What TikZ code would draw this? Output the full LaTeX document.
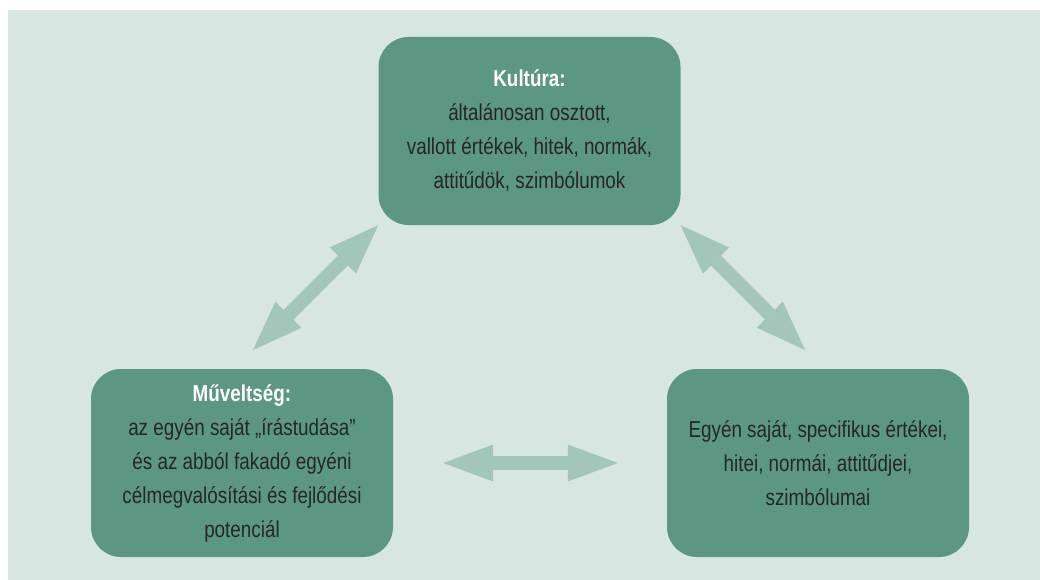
\documentclass[tikz,border=0pt]{standalone}
\usepackage{fontspec}
\setmainfont[FakeStretch=0.82]{Liberation Sans}
\usepackage{tikz}
\usetikzlibrary{arrows.meta}
\definecolor{bg}{HTML}{D8E6E1}
\definecolor{boxc}{HTML}{5C9784}
\definecolor{arrc}{HTML}{A3C6BA}
\definecolor{txt}{HTML}{262626}
\tikzstyle{box} = [rectangle, rounded corners=30pt, minimum width=302pt, minimum height=188pt, fill=boxc, align=center, inner sep=0pt, text=txt, font=\fontsize{23}{34}\selectfont]
\tikzstyle{dbl} = [draw=arrc, line width=14pt, {Triangle[width=37pt,length=50pt,line width=0pt]}-{Triangle[width=37pt,length=50pt,line width=0pt]}]
\newcommand{\cim}[1]{\textbf{\color{white}#1}}

\begin{document}
\begin{tikzpicture}[x=1pt,y=-1pt]
        \useasboundingbox (0,0) rectangle (1040,580);
        \fill[bg] (8,10) rectangle (1040,580);

        \node (K) [box, xshift=529.5pt, yshift=-131pt] {\cim{Kultúra:} \\ általánosan osztott, \\ vallott értékek, hitek, normák, \\ attitűdök, szimbólumok};
        \node (M) [box, xshift=242pt, yshift=-463pt] {\cim{Műveltség:} \\ az egyén saját „írástudása” \\ és az abból fakadó egyéni \\ célmegvalósítási és fejlődési \\ potenciál};
        \node (E) [box, xshift=818pt, yshift=-463pt] {Egyén saját, specifikus értékei, \\ hitei, normái, attitűdjei, \\ szimbólumai};

        \coordinate (c1) at (253,350);
        \coordinate (c2) at (805,350);

        \draw[dbl] (K.south west) -- (c1);
        \draw[dbl] (K.south east) -- (c2);
        \draw[dbl, shorten <=50pt, shorten >=49pt] (M) -- (E);
\end{tikzpicture}
\end{document}
